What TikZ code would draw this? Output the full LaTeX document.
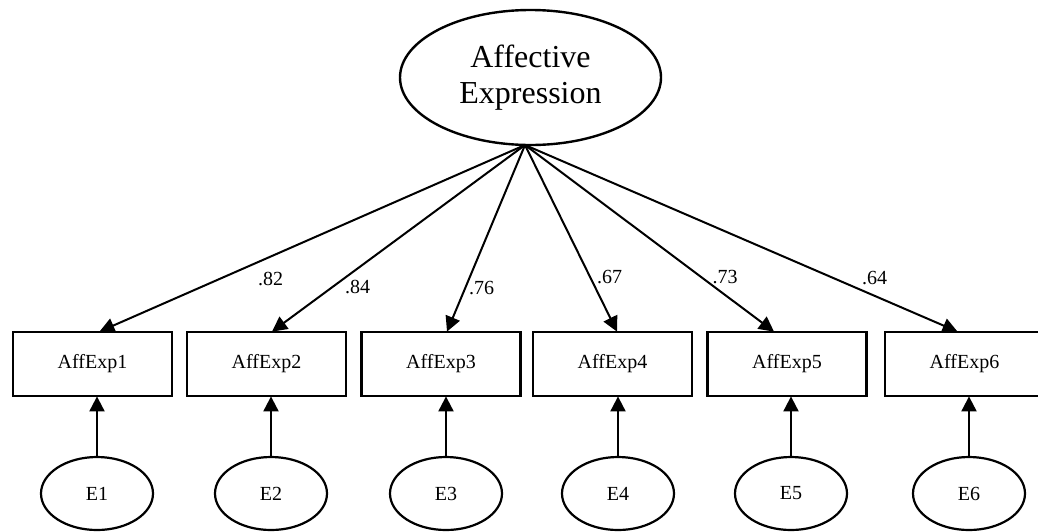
\documentclass[tikz,border=0pt]{standalone}
\usepackage{fontspec}
\setmainfont{Liberation Serif}
\usetikzlibrary{arrows.meta,shapes.geometric}
\begin{document}
\begin{tikzpicture}[x=1pt,y=-1pt,
  lat/.style={draw,ellipse,line width=2.4pt,inner sep=0pt,minimum width=261pt,minimum height=135pt,align=center,font=\fontsize{32}{36}\selectfont},
  obs/.style={draw,rectangle,line width=2.8pt,inner sep=0pt,minimum width=159pt,minimum height=64pt,font=\fontsize{20}{24}\selectfont},
  err/.style={draw,ellipse,line width=2.2pt,inner sep=0pt,minimum width=112pt,minimum height=73pt,font=\fontsize{20}{24}\selectfont},
  lbl/.style={inner sep=0pt,font=\fontsize{20}{24}\selectfont},
  arr/.style={line width=2pt,-{Triangle[length=15pt,width=15pt]}}]
\useasboundingbox (0,0) rectangle (1038,531);
\node[lat] (F) at (530.5,77.5) {Affective\\Expression};
\node[obs] (b1) at (92.5,364) {AffExp1};
\node[obs] (b2) at (266.5,364) {AffExp2};
\node[obs] (b3) at (441,364) {AffExp3};
\node[obs] (b4) at (612.5,364) {AffExp4};
\node[obs] (b5) at (787,364) {AffExp5};
\node[obs] (b6) at (964.5,364) {AffExp6};
\node[err] (e1) at (97,493.5) {E1};
\node[err] (e2) at (271,493.5) {E2};
\node[err] (e3) at (446,493.5) {E3};
\node[err] (e4) at (618,493.5) {E4};
\node[err] (e5) at (791,493.5) {E5};
\node[err] (e6) at (969,493.5) {E6};
\coordinate (src) at (525,145);
\draw[arr] (src) -- ([xshift=7pt,yshift=-1pt]b1.north);
\draw[arr] (src) -- ([xshift=5.5pt,yshift=-1pt]b2.north);
\draw[arr] (src) -- ([xshift=6pt,yshift=-1pt]b3.north);
\draw[arr] (src) -- ([xshift=4.5pt,yshift=-1pt]b4.north);
\draw[arr] (src) -- ([xshift=-13pt,yshift=-1pt]b5.north);
\draw[arr] (src) -- ([xshift=-7pt,yshift=-1pt]b6.north);
\foreach \i in {1,...,6}{
  \draw[arr] (e\i.north) -- ([yshift=1pt]e\i.north |- b\i.south);
}
\node[lbl] (l1) at (270.5,278.5) {.82};
\node[lbl] (l2) at (357.5,287) {.84};
\node[lbl] (l3) at (481.5,288.5) {.76};
\node[lbl] (l4) at (609.5,277) {.67};
\node[lbl] (l5) at (725,277.5) {.73};
\node[lbl] (l6) at (874.5,278) {.64};
\end{tikzpicture}
\end{document}
